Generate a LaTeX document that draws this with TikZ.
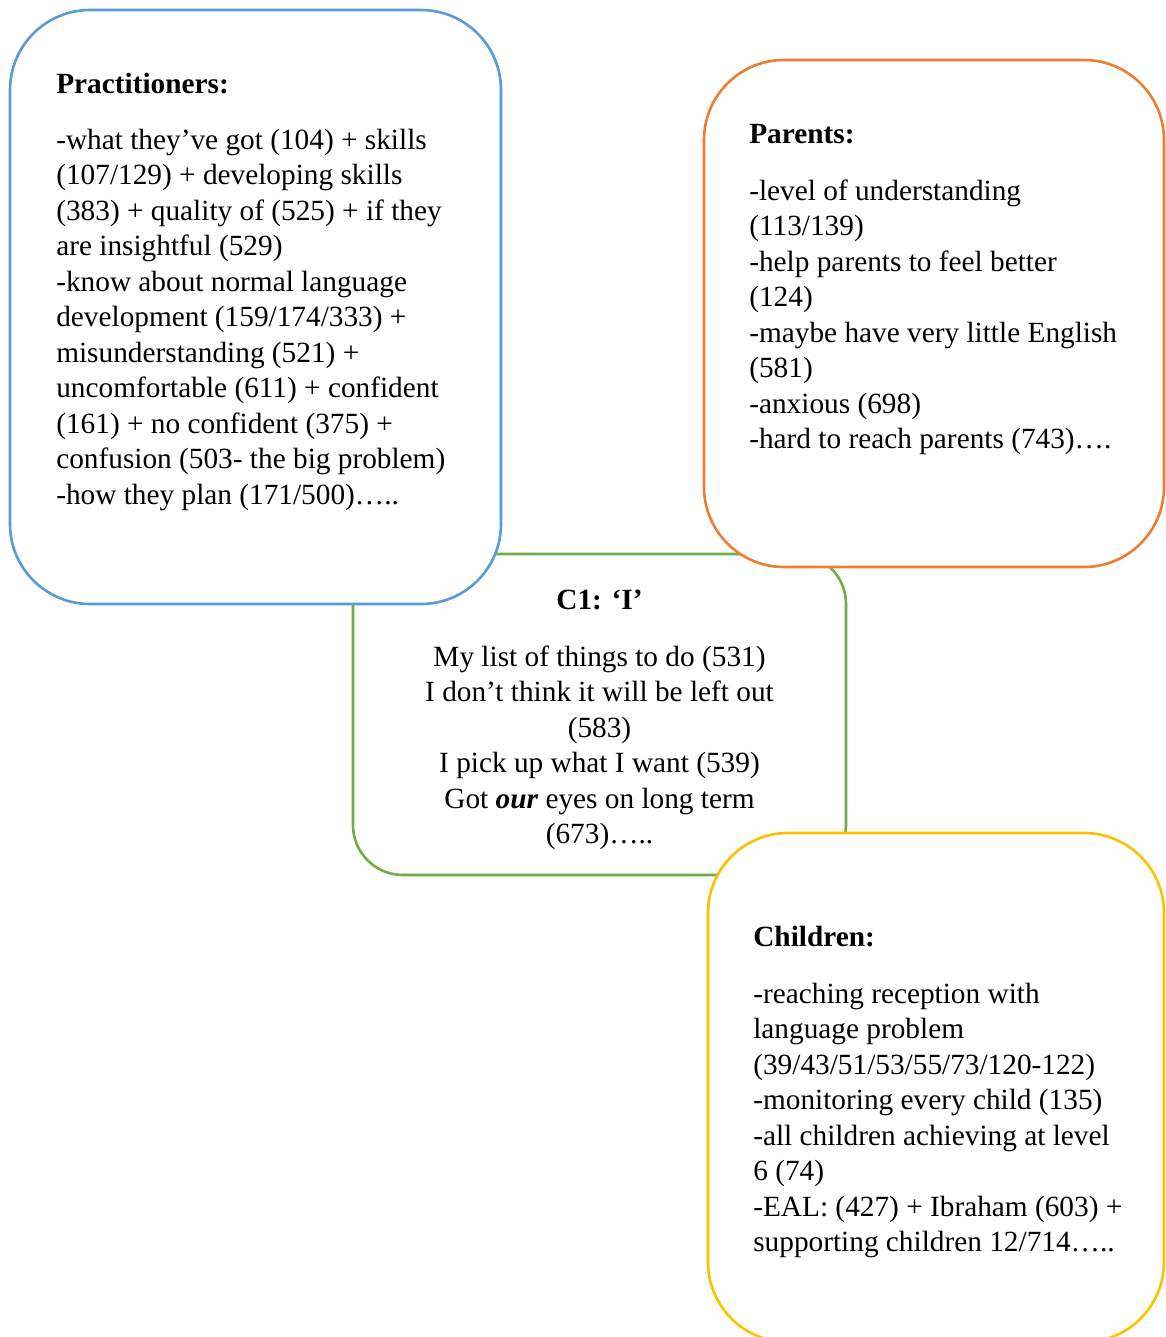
\documentclass[tikz,border=0pt]{standalone}
\usepackage{fontspec}
\setmainfont{Liberation Serif}
\usepackage{tikz}

\definecolor{pracblue}{RGB}{91,155,213}
\definecolor{parorange}{RGB}{237,125,49}
\definecolor{cgreen}{RGB}{112,173,71}
\definecolor{chyellow}{RGB}{255,192,0}

\begin{document}
\begin{tikzpicture}[x=1pt,y=-1pt,line width=2.6pt,
		box/.style={draw, fill=white, rounded corners=80pt, inner sep=0pt},
		heading/.style={font=\fontsize{29.3}{35.5}\selectfont\bfseries, inner sep=0pt, anchor=base west},
		txt/.style={font=\fontsize{29.3}{35.5}\selectfont, align=left, inner sep=0pt, anchor=base west},
		txtc/.style={txt, align=center, anchor=base}]
	\useasboundingbox (0,0) rectangle (1165,1337);

	% middle box first, the others sit on top of it
	\node[box, draw=cgreen, rounded corners=50pt, minimum width=493pt, minimum height=321pt] (c1box) at (599.5,714.5) {};
	\node[box, draw=pracblue, minimum width=491pt, minimum height=594pt] (pracbox) at (255.5,307) {};
	\node[box, draw=parorange, minimum width=460pt, minimum height=507pt] (parbox) at (934,313.5) {};
	\node[box, draw=chyellow, minimum width=456pt, minimum height=509pt] (chbox) at (936,1087.5) {};

	% text nodes sit on the baseline of their last line
	\node[heading] (prachead) at (55,94) {Practitioners:};
	\node[txt] (practxt) at (55,504) {-what they’ve got (104) + skills\\
		(107/129) + developing skills\\
		(383) + quality of (525) + if they\\
		are insightful (529)\\
		-know about normal language\\
		development (159/174/333) +\\
		misunderstanding (521) +\\
		uncomfortable (611) + confident\\
		(161) + no confident (375) +\\
		confusion (503- the big problem)\\
		-how they plan (171/500)…..};

	\node[heading] (parhead) at (748,144) {Parents:};
	\node[txt] (partxt) at (748,448.5) {-level of understanding\\
		(113/139)\\
		-help parents to feel better\\
		(124)\\
		-maybe have very little English\\
		(581)\\
		-anxious (698)\\
		-hard to reach parents (743)….};

	\node[heading, anchor=base] (c1head) at (599.5,609) {C1: ‘I’};
	\node[txtc] (c1txt) at (599.5,843.5) {My list of things to do (531)\\
		I don’t think it will be left out\\
		(583)\\
		I pick up what I want (539)\\
		Got \textbf{\textit{our}} eyes on long term\\
		(673)…..};

	\node[heading] (chhead) at (752,946) {Children:};
	\node[txt] (chtxt) at (752,1251.5) {-reaching reception with\\
		language problem\\
		(39/43/51/53/55/73/120-122)\\
		-monitoring every child (135)\\
		-all children achieving at level\\
		6 (74)\\
		-EAL: (427) + Ibraham (603) +\\
		supporting children 12/714…..};
\end{tikzpicture}
\end{document}
